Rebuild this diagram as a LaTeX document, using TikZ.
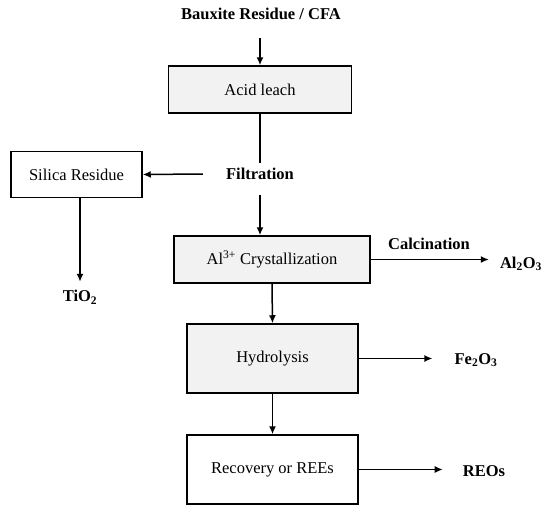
\documentclass[tikz,border=0pt]{standalone}
\usepackage{fontspec}
\setmainfont{Liberation Serif}
\usetikzlibrary{arrows.meta}
\definecolor{boxgray}{RGB}{242,242,242}
\begin{document}
\begin{tikzpicture}[x=1pt,y=-1pt,
  every node/.style={font=\fontsize{16.5}{19}\selectfont},
  pbox/.style={draw,line width=1.5pt,inner sep=0pt,align=center},
  graybox/.style={pbox,fill=boxgray},
  whitebox/.style={pbox,fill=white},
  lbl/.style={font=\fontsize{16.5}{19}\selectfont\bfseries,inner sep=0pt},
  conn/.style={line width=1.5pt},
  arr/.style={conn,-{Latex[length=8pt,width=7pt]}}
]
\useasboundingbox (0,0) rectangle (550,517);
\node[lbl] (src) at (261,14) {Bauxite Residue / CFA};
\node[graybox,minimum width=183pt,minimum height=47pt] (acid) at (260,89.5) {Acid leach};
\node[lbl] (filt) at (260,174) {Filtration};
\node[whitebox,minimum width=131pt,minimum height=46pt] (sil) at (76.5,174.5) {Silica Residue};
\node[lbl] (tio) at (80,297) {TiO\textsubscript{2}};
\node[graybox,minimum width=196pt,minimum height=47pt] (al) at (272,259.5) {Al\textsuperscript{3+} Crystallization};
\node[lbl] (calc) at (429,244) {Calcination};
\node[lbl] (alo) at (521,264) {Al\textsubscript{2}O\textsubscript{3}};
\node[graybox,minimum width=171pt,minimum height=69pt] (hyd) at (272.5,358.5) {Hydrolysis};
\node[lbl] (feo) at (476,360) {Fe\textsubscript{2}O\textsubscript{3}};
\node[whitebox,minimum width=171pt,minimum height=69pt] (rec) at (272.5,469.5) {Recovery or REEs};
\node[lbl] (reo) at (484,471) {REOs};

\draw[arr] ([yshift=-18pt]src.south -| acid.north) -- (acid.north);
\draw[conn] (acid.south) -- ([yshift=5pt]filt.north);
\draw[arr] ([xshift=-23pt]filt.west) -- (sil.east);
\draw[arr] (sil.south -| tio.north) -- ([yshift=8pt]tio.north);
\draw[arr,line width=2.2pt] ([yshift=-15pt]filt.south) -- (filt.south |- al.north);
\draw[arr] (al.east) -- ([xshift=-11pt]alo.west |- al.east);
\draw[arr] (al.south) -- (hyd.north);
\draw[arr] (hyd.east) -- ([xshift=-22pt]feo.west |- hyd.east);
\draw[arr] (hyd.south) -- (rec.north);
\draw[arr] (rec.east) -- ([xshift=-20pt]reo.west |- rec.east);
\end{tikzpicture}
\end{document}
